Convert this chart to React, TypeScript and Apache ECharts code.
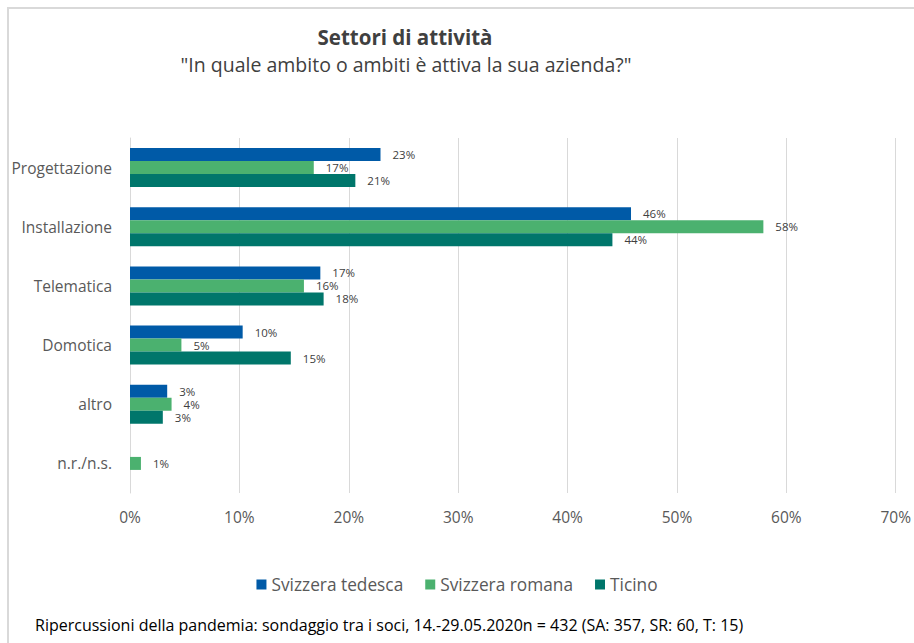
import React, { useEffect, useRef } from "react";
import * as echarts from "echarts";

const categories = ["Progettazione", "Installazione", "Telematica", "Domotica", "altro", "n.r./n.s."];
const seriesNames = ["Svizzera tedesca", "Svizzera romana", "Ticino"];
const tedesca = [22.9, 45.8, 17.4, 10.3, 3.4, 0];
const romana = [16.8, 57.9, 15.9, 4.7, 3.8, 1.0];
const ticino = [20.6, 44.1, 17.7, 14.7, 3.0, 0];
const colors = ["#005AA7", "#4BB16F", "#00766B"];
const xTicks = [0, 10, 20, 30, 40, 50, 60, 70];

const titleText = "Settori di attività";
const subtitleText = "\"In quale ambito o ambiti è attiva la sua azienda?\"";
const footerText = "Ripercussioni della pandemia: sondaggio tra i soci, 14.-29.05.2020n = 432 (SA: 357, SR: 60, T: 15)";

const FONT = "'Open Sans', 'Noto Sans', sans-serif";

export default function App() {
  const ref = useRef<HTMLDivElement>(null);
  useEffect(() => {
    document.body.style.margin = "0";
    if (!ref.current) return;
    const chart = echarts.init(ref.current, null, { renderer: "svg" });
    const dataSets = [tedesca, romana, ticino];
    chart.setOption({
      animation: false,
      backgroundColor: "#ffffff",
      textStyle: { fontFamily: FONT },
      grid: { left: 130, right: 15, top: 138, bottom: 150, containLabel: false },
      legend: {
        data: seriesNames,
        top: 571,
        left: "center",
        itemWidth: 10,
        itemHeight: 10,
        itemGap: 22,
        icon: "rect",
        textStyle: { fontSize: 17.3, color: "#595959", fontFamily: FONT },
      },
      xAxis: {
        type: "value",
        min: xTicks[0],
        max: xTicks[xTicks.length - 1],
        interval: 10,
        axisLine: { show: false },
        axisTick: { show: false },
        axisLabel: { formatter: "{value}%", color: "#595959", fontSize: 15.5, margin: 16, fontFamily: FONT },
        splitLine: { lineStyle: { color: "#d9d9d9", width: 1 } },
      },
      yAxis: {
        type: "category",
        data: categories,
        inverse: true,
        axisLine: { show: true, lineStyle: { color: "#d9d9d9", width: 1 } },
        axisTick: { show: false },
        axisLabel: { color: "#595959", fontSize: 15.5, margin: 18, fontFamily: FONT },
      },
      series: dataSets.map((d, i) => ({
        name: seriesNames[i],
        type: "bar",
        data: d,
        barWidth: 13,
        barGap: "0%",
        itemStyle: { color: colors[i] },
        label: {
          show: true,
          position: "right",
          distance: 12,
          fontSize: 11.5,
          lineHeight: 12,
          color: "#404040",
          fontFamily: FONT,
          formatter: (p: any) => (p.value > 0 ? Math.round(p.value) + "%" : ""),
        },
      })),
      graphic: [
        {
          type: "polyline",
          shape: { points: [[8, 643], [8, 8], [914, 8]] },
          style: { stroke: "#d9d9d9", lineWidth: 2, fill: "none" },
          silent: true,
        },
        {
          type: "text",
          x: 405,
          y: 37,
          style: { text: titleText, fontSize: 20.5, fontWeight: "bold", fill: "#404040", align: "center", verticalAlign: "middle", fontFamily: FONT },
        },
        {
          type: "text",
          x: 406,
          y: 64,
          style: { text: subtitleText, fontSize: 19.5, fill: "#404040", align: "center", verticalAlign: "middle", fontFamily: FONT },
        },
        {
          type: "text",
          x: 35,
          y: 625,
          style: { text: footerText, fontSize: 16, fill: "#000000", align: "left", verticalAlign: "middle", fontFamily: FONT },
        },
      ],
    });
    return () => chart.dispose();
  }, []);
  return <div ref={ref} style={{ width: 914, height: 643 }} />;
}
